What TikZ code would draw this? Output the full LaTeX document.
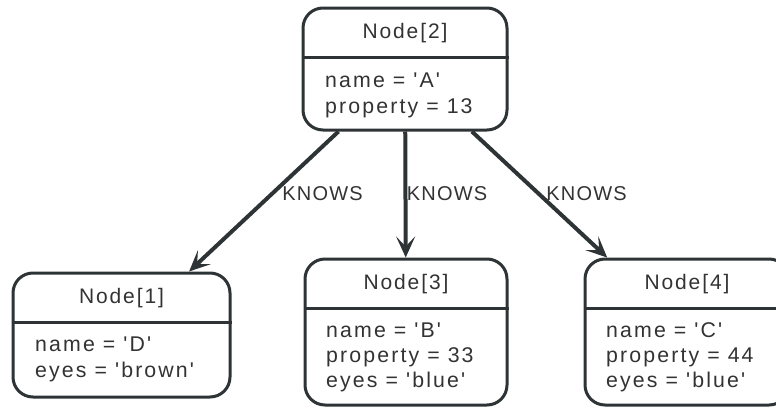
\documentclass[tikz,border=0pt]{standalone}
\usepackage{fontspec}
\setmainfont{Liberation Sans}[LetterSpace=6,Ligatures=TeXOff]
\newfontfamily\boxfont{Liberation Sans}[LetterSpace=9,Ligatures=TeXOff]
\newfontfamily\attrfont{Liberation Sans}[LetterSpace=10,Ligatures=TeXOff]
\usetikzlibrary{arrows.meta}
\definecolor{linec}{RGB}{46,52,54}
\definecolor{textc}{RGB}{51,51,51}
\begin{document}
\begin{tikzpicture}[x=1pt,y=-1pt,
  umlbox/.style={draw=linec,line width=3pt,rounded corners=20pt,inner sep=0pt,fill=white},
  divider/.style={draw=linec,line width=3pt},
  titletext/.style={text=textc,font=\boxfont\fontsize{21}{25}\selectfont,inner sep=0pt,anchor=center},
  attrtext/.style={text=textc,font=\attrfont\fontsize{21.3}{25}\selectfont,inner sep=0pt,anchor=base west},
  edgelabel/.style={text=textc,font=\fontsize{20}{24}\selectfont,inner sep=0pt},
  edge/.style={draw=linec,line width=4pt,-{Stealth[length=21pt,width=19pt,inset=10pt]}}]
\useasboundingbox (0,0) rectangle (776,407);
\clip (0,0) rectangle (776,407);
% boxes
\node[umlbox,minimum width=204pt,minimum height=122pt] (n2) at (405,69) {};
\node[umlbox,minimum width=217pt,minimum height=124pt] (n1) at (121.5,335) {};
\node[umlbox,minimum width=202pt,minimum height=146pt] (n3) at (406,332) {};
\node[umlbox,minimum width=204pt,minimum height=146pt] (n4) at (687,332) {};
% dividers
\draw[divider] (n2.west |- 0,57) -- (n2.east |- 0,57);
\draw[divider] (n1.west |- 0,322) -- (n1.east |- 0,322);
\draw[divider] (n3.west |- 0,308) -- (n3.east |- 0,308);
\draw[divider] (n4.west |- 0,308) -- (n4.east |- 0,308);
% titles
\node[titletext] (t2) at (405,33) {Node[2]};
\node[titletext] (t1) at (121.5,298) {Node[1]};
\node[titletext] (t3) at (406,284) {Node[3]};
\node[titletext] (t4) at (687,284) {Node[4]};
% attributes
\node[attrtext] (a2a) at (325,87) {name = 'A'};
\node[attrtext] (a2b) at (325,113) {property = 13};
\node[attrtext] (a1a) at (35,351) {name = 'D'};
\node[attrtext] (a1b) at (35,377) {eyes = 'brown'};
\node[attrtext] (a3a) at (326,337) {name = 'B'};
\node[attrtext] (a3b) at (326,362) {property = 33};
\node[attrtext] (a3c) at (326,387) {eyes = 'blue'};
\node[attrtext] (a4a) at (606,337) {name = 'C'};
\node[attrtext] (a4b) at (606,362) {property = 44};
\node[attrtext] (a4c) at (606,387) {eyes = 'blue'};
% edges
\draw[edge] (n2) -- (n1);
\draw[edge] (n2) -- (n3);
\draw[edge] (n2) -- (n4);
% labels
\node[edgelabel] (l1) at (322.5,194) {KNOWS};
\node[edgelabel] (l3) at (447,194) {KNOWS};
\node[edgelabel] (l4) at (586.5,194) {KNOWS};
\end{tikzpicture}
\end{document}
